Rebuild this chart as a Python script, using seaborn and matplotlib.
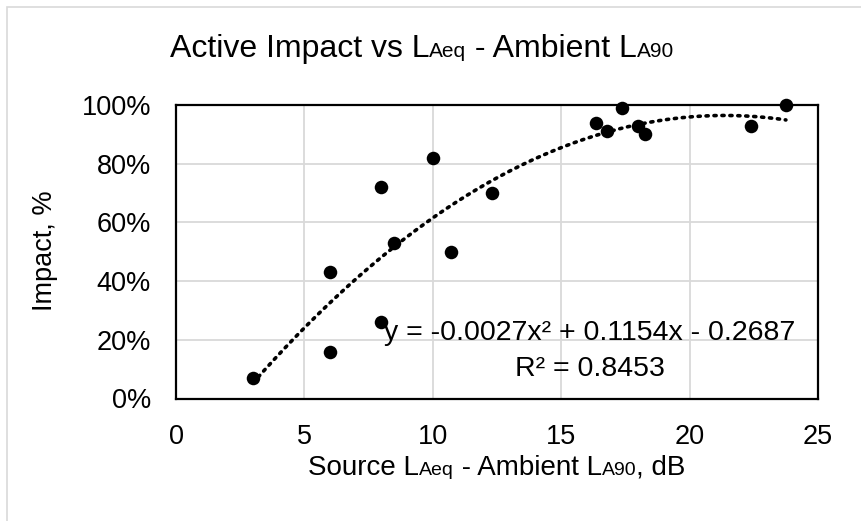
import numpy as np
import pandas as pd
import matplotlib
matplotlib.use("Agg")
import matplotlib.pyplot as plt
import seaborn as sns
from matplotlib.ticker import PercentFormatter
from matplotlib.offsetbox import TextArea, HPacker, AnnotationBbox
from matplotlib.patches import Rectangle

# Level difference (source LAeq minus ambient LA90, dB) and share of respondents impacted
level_diff = [3.0, 6.0, 6.0, 8.0, 8.0, 8.5, 10.0, 10.7, 12.3,
              16.35, 16.8, 17.35, 18.0, 18.25, 22.4, 23.75]
impact = [0.07, 0.43, 0.16, 0.72, 0.26, 0.53, 0.82, 0.50, 0.70,
          0.94, 0.91, 0.99, 0.93, 0.90, 0.93, 1.00]

# Quadratic trendline as reported
trend_coef = [-0.0027, 0.1154, -0.2687]
r_squared = 0.8453

x_ticks = [0, 5, 10, 15, 20, 25]
y_ticks = [0.0, 0.2, 0.4, 0.6, 0.8, 1.0]

FONT = "Liberation Sans"
TICK_SIZE = 19.5
W, H = 861, 521

sns.set_style("white")
plt.rcParams["font.family"] = [FONT, "DejaVu Sans"]

fig = plt.figure(figsize=(W / 100, H / 100), dpi=100)
ax = fig.add_axes([176 / W, 1 - 398.5 / H, (818 - 176) / W, (398.5 - 105) / H])

df = pd.DataFrame({"diff": level_diff, "impact": impact})

xs = np.linspace(min(level_diff), max(level_diff), 200)
trend = pd.DataFrame({"diff": xs, "impact": np.polyval(trend_coef, xs)})
sns.lineplot(data=trend, x="diff", y="impact", ax=ax, color="black",
             linestyle=(0, (0.6, 1.6)), linewidth=2.6, dash_capstyle="round",
             zorder=3)
sns.scatterplot(data=df, x="diff", y="impact", ax=ax, color="black",
                s=95, edgecolor="black", linewidth=0, zorder=4, clip_on=False)

ax.set_xlim(0, 25)
ax.set_ylim(0, 1.0)
ax.set_xticks(x_ticks)
ax.set_yticks(y_ticks)
ax.yaxis.set_major_formatter(PercentFormatter(xmax=1.0, decimals=0))
ax.grid(True, color="#d9d9d9", linewidth=1.3)
ax.set_axisbelow(True)
for sp in ax.spines.values():
    sp.set_visible(True)
    sp.set_color("black")
    sp.set_linewidth(1.6)
ax.tick_params(axis="both", length=0, labelsize=TICK_SIZE, colors="black")
ax.tick_params(axis="x", pad=18)
ax.tick_params(axis="y", pad=18)
ax.set_xlabel("")
ax.set_ylabel("")

# Trendline equation
eq_x = 16.12
ax.text(eq_x, 0.223, "y = -0.0027x\u00b2 + 0.1154x - 0.2687", ha="center",
        va="center", fontsize=20.5, color="black", zorder=5)
ax.text(eq_x, 0.1005, f"R\u00b2 = {r_squared:.4f}", ha="center", va="center",
        fontsize=20.5, color="black", zorder=5)


def mixed_label(parts, xy_px):
    children = [TextArea(t, textprops=dict(fontsize=sz, family=[FONT, "DejaVu Sans"],
                                           color="black"))
                for t, sz in parts]
    box = HPacker(children=children, align="baseline", pad=0, sep=0)
    ab = AnnotationBbox(box, (xy_px[0] / W, 1 - xy_px[1] / H),
                        xycoords="figure fraction", frameon=False,
                        box_alignment=(0.5, 0.5), pad=0)
    fig.add_artist(ab)


mixed_label([("Active Impact vs L", 23), ("Aeq", 15), (" - Ambient L", 23),
             ("A90", 15)], (422, 49))
mixed_label([("Source L", 20), ("Aeq", 14), (" - Ambient L", 20),
             ("A90", 14), (", dB", 20)], (497, 468))

fig.text(45 / W, 1 - 251 / H, "Impact, %", rotation=90, ha="center",
         va="center", fontsize=19.5, color="black")

# Chart area outline
fig.patches.append(Rectangle((7 / W, -0.1), 1.2, 1.1 - 7 / H,
                             transform=fig.transFigure, fill=False,
                             edgecolor="#d9d9d9", linewidth=1.2))

fig.savefig("out.png", dpi=100)
